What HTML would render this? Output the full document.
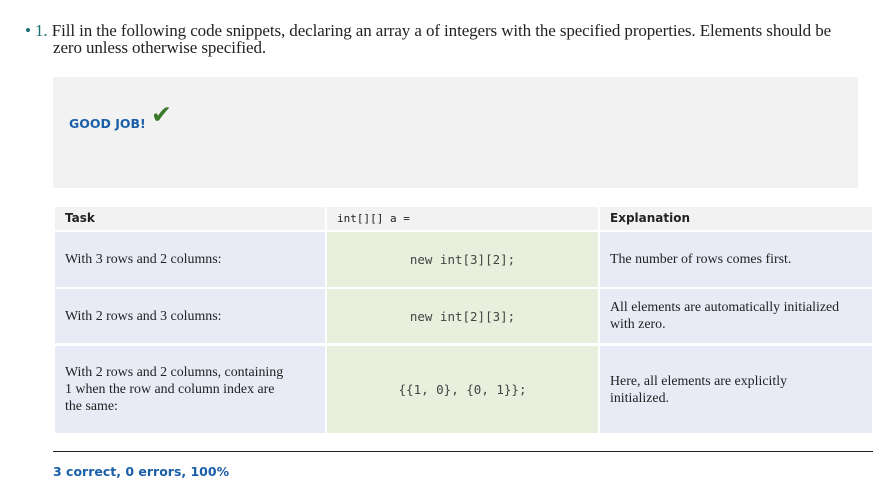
<!DOCTYPE html>
<html><head><meta charset="utf-8"><style>
body{margin:0;width:883px;height:495px;background:#fff;position:relative;overflow:hidden;font-family:"Liberation Serif",serif;color:#222}
.a{position:absolute}
.c{position:absolute;box-sizing:border-box;display:flex;align-items:center;font-size:13.9px;line-height:17px}
.h{background:#f2f2f2;font-family:"DejaVu Sans",sans-serif;font-weight:bold;font-size:12px;padding-left:10px}
.t{background:#e8ebf6;padding-left:10px}
.m{background:#e8f0dd;justify-content:center;font-family:"DejaVu Sans Mono",monospace;font-size:12.5px;color:#444}
</style></head><body>
<div class="a" style="left:25px;top:22px;font-size:17px;line-height:17px;width:860px;letter-spacing:-0.1px">
<span style="color:#1a6e6e">• 1.</span> Fill in the following code snippets, declaring an array a of integers with the specified properties. Elements should be<br><span style="padding-left:28px">zero unless otherwise specified.</span></div>
<div class="a" style="left:53px;top:77px;width:805px;height:111px;background:#f2f2f2"></div>
<div class="a" style="left:69px;top:116px;font-family:'DejaVu Sans',sans-serif;font-weight:bold;font-size:12.5px;color:#1a5fa8">GOOD JOB!</div>
<div class="a" style="left:151px;top:100px;font-size:25px;color:#3a7a2a;font-family:'DejaVu Sans',sans-serif">✔</div>
<div class="c h" style="left:55px;top:207px;width:270px;height:23px">Task</div>
<div class="c h" style="left:327px;top:207px;width:271px;height:23px;font-family:'DejaVu Sans Mono',monospace;font-size:11px;font-weight:normal">int[][] a =</div>
<div class="c h" style="left:600px;top:207px;width:272px;height:23px">Explanation</div>
<div class="c t" style="left:55px;top:232px;width:270px;height:55px">With 3 rows and 2 columns:</div>
<div class="c m" style="left:327px;top:232px;width:271px;height:55px">new int[3][2];</div>
<div class="c t" style="left:600px;top:232px;width:272px;height:55px">The number of rows comes first.</div>
<div class="c t" style="left:55px;top:289px;width:270px;height:54px">With 2 rows and 3 columns:</div>
<div class="c m" style="left:327px;top:289px;width:271px;height:54px">new int[2][3];</div>
<div class="c t" style="left:600px;top:289px;width:272px;height:54px">All elements are automatically initialized<br>with zero.</div>
<div class="c t" style="left:55px;top:346px;width:270px;height:87px">With 2 rows and 2 columns, containing<br>1 when the row and column index are<br>the same:</div>
<div class="c m" style="left:327px;top:346px;width:271px;height:87px">{{1, 0}, {0, 1}};</div>
<div class="c t" style="left:600px;top:346px;width:272px;height:87px">Here, all elements are explicitly<br>initialized.</div>
<div class="a" style="left:53px;top:451px;width:820px;height:1px;background:#222"></div>
<div class="a" style="left:53px;top:464px;font-family:'DejaVu Sans',sans-serif;font-weight:bold;font-size:12.5px;color:#1a5fa8">3 correct, 0 errors, 100%</div>
</body></html>
